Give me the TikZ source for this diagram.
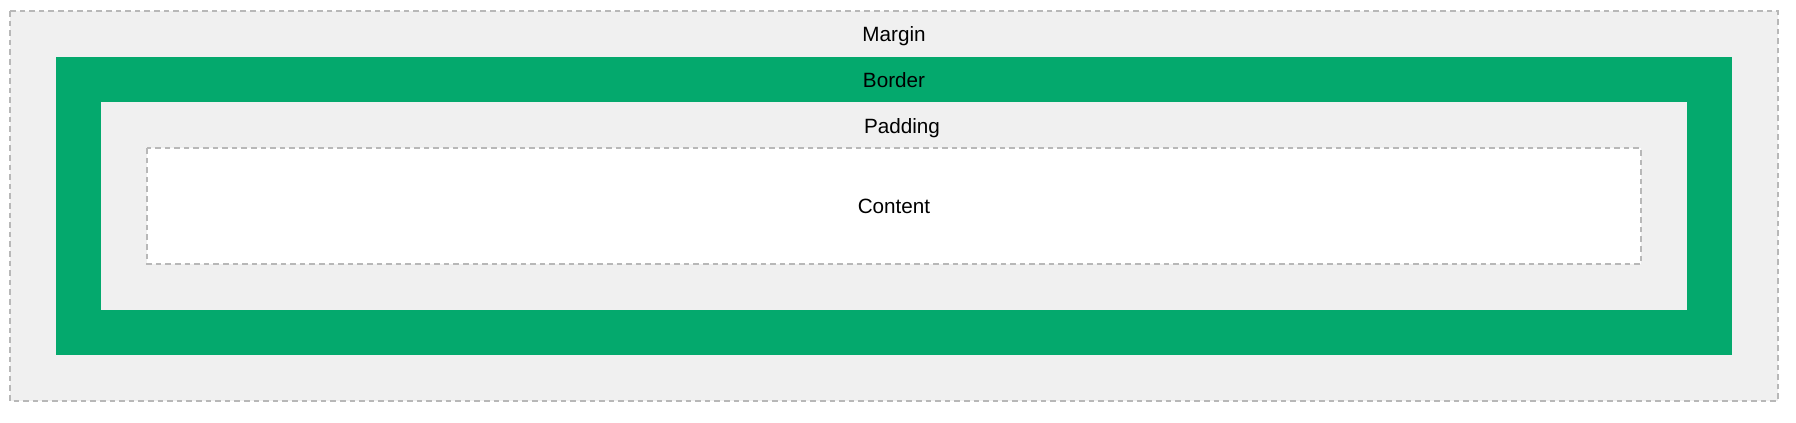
\documentclass[tikz,border=0pt]{standalone}
\usepackage{fontspec}
\setmainfont{Liberation Sans}
\definecolor{boxgreen}{RGB}{4,169,109}
\definecolor{boxgrey}{RGB}{240,240,240}
\definecolor{dashgrey}{RGB}{184,184,184}
\begin{document}
\begin{tikzpicture}[x=0.75pt,y=0.75pt,yscale=-1,xscale=1,
  dashbox/.style={draw=dashgrey, line width=1.3pt, dash pattern=on 4.2pt off 3pt},
  boxtext/.style={anchor=base, inner sep=0pt, font=\fontsize{15.5}{18}\selectfont}]
\useasboundingbox (0,0) rectangle (1796,422);

%Shape: Rectangle (margin)
\filldraw [fill=boxgrey, dashbox] (10,11) rectangle (1778,401) ;
%Shape: Rectangle (border)
\fill [boxgreen] (56,57) rectangle (1732,355) ;
%Shape: Rectangle (padding)
\fill [boxgrey] (101,102) rectangle (1687,310) ;
%Shape: Rectangle (content)
\filldraw [fill=white, dashbox] (147,148) rectangle (1641,264) ;

% Text Node
\node [boxtext] (margin) at (894,41.5) {Margin};
% Text Node
\node [boxtext] (border) at (894,87) {Border};
% Text Node
\node [boxtext] (padding) at (902,133) {Padding};
% Text Node
\node [boxtext] (content) at (894,213) {Content};

\end{tikzpicture}
\end{document}
